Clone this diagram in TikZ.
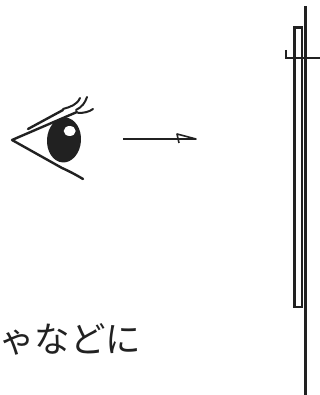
\documentclass[tikz,border=0pt]{standalone}
\usepackage{fontspec}
\newfontfamily\cjk{Noto Sans CJK JP}
\definecolor{inkgray}{gray}{0.13}
\tikzset{
  lid/.style={line width=2.4pt, color=inkgray, line cap=round, line join=round},
  lash/.style={line width=2pt, color=inkgray, line cap=round},
  plate/.style={line width=2pt, color=inkgray},
}
\begin{document}
\begin{tikzpicture}[x=1pt, y=1pt]
        \useasboundingbox (0, 0) rectangle (320, 395);

        % eye
        \draw [fill=inkgray, draw=none, rotate around={-4:(64, 255)}] (64, 255) ellipse (17 and 22.5);
        \draw [fill=white, draw=none] (69.7, 264) ellipse (6 and 5);
        \draw [lid] (77, 283) -- (12, 255) -- (62, 227) .. controls (71, 223) and (78, 219) .. (83, 216);
        \draw [lid] (28, 266) -- (63, 285);
        \draw [lash] (63, 286) .. controls (70, 288) and (77, 290) .. (80, 297);
        \draw [lash] (76, 285) .. controls (82, 288) and (85, 292) .. (87, 298);
        \draw [lash] (78, 282) .. controls (84, 282) and (89, 283) .. (93, 286);

        % ray
        \coordinate (rayA) at (123, 256);
        \coordinate (rayB) at (196, 256);
        \coordinate (tipA) at (177, 261);
        \coordinate (tipB) at (179, 252);
        \draw [plate, line width=1.6pt, line join=round] (rayA) -- (rayB) -- (tipA) -- (tipB);

        % glass plate
        \coordinate (poleA) at (305.5, 389);
        \coordinate (poleB) at (305.5, 0);
        \draw [plate, line width=3pt] (poleA) -- (poleB);
        \draw [plate, line width=2.2pt] (294.5, 88) rectangle (302, 367.5);
        \coordinate (barA) at (285.5, 345);
        \coordinate (barB) at (285.5, 337);
        \coordinate (barC) at (320, 337);
        \draw [plate] (barA) -- (barB) -- (barC);

        \node (caption) [anchor=base west, inner sep=0pt, color=inkgray] at (-1, 42) {\cjk\fontsize{35.5}{36}\selectfont ゃなどに};
      \end{tikzpicture}
\end{document}
